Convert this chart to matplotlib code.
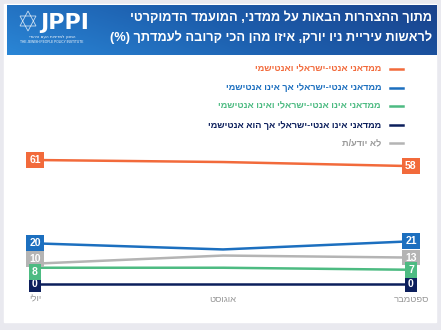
import numpy as np
import matplotlib
matplotlib.use("Agg")
import matplotlib.pyplot as plt
from matplotlib.patches import Rectangle, Polygon

plt.rcParams['font.family'] = ['Liberation Sans', 'DejaVu Sans']

# ── Data ──────────────────────────────────────────────
months = ['יולי', 'אוגוסט', 'ספטמבר']
series_names = [
    'ממדאני אנטי-ישראלי ואנטישמי',
    'ממדאני אנטי-ישראלי אך אינו אנטישמי',
    'ממדאני אינו אנטי-ישראלי ואינו אנטישמי',
    'ממדאני אינו אנטי-ישראלי אך הוא אנטישמי',
    'לא יודע/ת',
]
anti_israel_antisemitic = [61, 60, 58]
anti_israel_not_antisemitic = [20, 17, 21]
not_anti_israel_not_antisemitic = [8, 8, 7]
not_anti_israel_antisemitic = [0, 0, 0]
dont_know = [10, 14, 13]
title_lines = [
    'מתוך ההצהרות הבאות על ממדני, המועמד הדמוקרטי',
    'לראשות עיריית ניו יורק, איזו מהן הכי קרובה לעמדתך (%)',
]

colors = ['#f26a3b', '#1c6fbf', '#4dbb82', '#0c1f5c', '#b4b4b4']
text_colors = ['#f26a3b', '#1c6fbf', '#4dbb82', '#0c1f5c', '#9a9a9a']
values = [anti_israel_antisemitic, anti_israel_not_antisemitic,
          not_anti_israel_not_antisemitic, not_anti_israel_antisemitic,
          dont_know]


def rtl(s):
    """Reverse a Hebrew string to visual order (mirror parentheses)."""
    out = s[::-1]
    return out.translate(str.maketrans('()', ')('))


W, H = 441, 330
fig = plt.figure(figsize=(W / 100, H / 100), dpi=100, facecolor='#e9e9ef')

# white panel and header
bg = fig.add_axes([0, 0, 1, 1])
bg.set_xlim(0, W)
bg.set_ylim(H, 0)
bg.axis('off')
bg.add_patch(Rectangle((4, 4), 432, 318, color='white', zorder=0))

grad = np.linspace(0, 1, 256)
gx, gy = np.meshgrid(grad, np.linspace(0, 1, 40))
g = 0.75 * gx + 0.25 * (1 - gy)
cmap = matplotlib.colors.LinearSegmentedColormap.from_list(
    'hdr', ['#2a86d6', '#1d5fae', '#19428c'])
bg.imshow(g, extent=(7, 437, 55, 5), cmap=cmap, aspect='auto', zorder=1)

# logo
tri1 = Polygon([[28, 11], [20, 26], [36, 26]], closed=True, fill=False,
               ec='white', lw=0.6, alpha=0.75, zorder=2)
tri2 = Polygon([[28, 31], [20, 16], [36, 16]], closed=True, fill=False,
               ec='white', lw=0.6, alpha=0.75, zorder=2)
bg.add_patch(tri1)
bg.add_patch(tri2)
bg.text(40, 23, 'JPPI', color='white', fontsize=16, fontweight='bold',
        ha='left', va='center', zorder=3, family='DejaVu Sans')
bg.text(52, 37, 'המכון למדיניות העם היהודי'[::-1], color='white',
        fontsize=3, ha='center', va='center', zorder=3, family='DejaVu Sans')
bg.text(52, 42, 'THE JEWISH PEOPLE POLICY INSTITUTE', color='white',
        fontsize=2.3, ha='center', va='center', zorder=3)

bg.text(432, 18, rtl(title_lines[0]), color='white', fontsize=9.2,
        fontweight='bold', ha='right', va='center', zorder=3)
bg.text(432, 37, rtl(title_lines[1]), color='white', fontsize=9.2,
        fontweight='bold', ha='right', va='center', zorder=3)

# legend
leg_y = [69, 88, 106, 125, 143]
for name, c, tc, y in zip(series_names, colors, text_colors, leg_y):
    bg.plot([390, 403], [y, y], color=c, lw=1.8, zorder=3)
    bg.text(381, y, rtl(name), color=tc, fontsize=6.6, fontweight='bold',
            ha='right', va='center', zorder=3)

# ── Chart ─────────────────────────────────────────────
x0, x1 = 35, 411
yb, yt = 284, 160
ax = fig.add_axes([x0 / W, 1 - yb / H, (x1 - x0) / W, (yb - yt) / H])
ax.set_xlim(0, 2)
ax.set_ylim(0, 61)
ax.axis('off')

xs = np.arange(len(months))
order = [4, 2, 1, 0, 3]
for i in order:
    ax.plot(xs, values[i], color=colors[i], lw=1.8, clip_on=False,
            solid_capstyle='butt', zorder=2 + i)

# end labels (July labels for 10 / 8 nudged apart)
nudge = {(4, 0): 3.4, (2, 0): -3}
for i in range(len(values)):
    for j in (0, 2):
        dy = nudge.get((i, j), 0)
        ax.annotate(str(values[i][j]), (xs[j], values[i][j]),
                    xytext=(0, dy), textcoords='offset points',
                    ha='center', va='center', color='white', fontsize=7.5,
                    fontweight='bold', zorder=10 + (i == 2) * 2,
                    annotation_clip=False,
                    bbox=dict(boxstyle='square,pad=0.28', fc=colors[i],
                              ec='none'))

for j, m in enumerate(months):
    ax.text(xs[j], -7.5, rtl(m), color='#999999', fontsize=6.8,
            ha='center', va='center')

fig.savefig('out.png', dpi=100, facecolor=fig.get_facecolor())
